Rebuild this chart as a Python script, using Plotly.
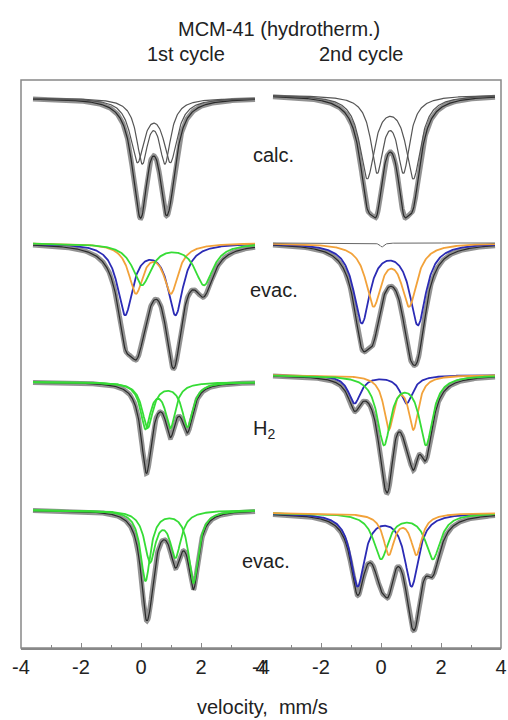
import numpy as np
import plotly.graph_objects as go

# Velocity channels of the spectrometer (mm/s)
velocity = np.linspace(-3.6, 3.8, 420)

# ---- Fitted doublet parameters: line positions (mm/s), line depths and HWHM (mm/s)
# Vertical offsets of the stacked spectra (baseline levels)

# 1st cycle
c1_calc_base = 550
c1_calc_pos = [(-0.12, 0.98), (0.04, 0.80)]
c1_calc_depth = [(61, 61), (61, 61)]
c1_calc_hwhm = [0.28, 0.23]

c1_evac_base = 405
c1_evac_pos = [(-0.53, 1.15), (-0.17, 1.00), (0.03, 2.10)]
c1_evac_depth = [(70, 70), (48, 48), (41, 41)]
c1_evac_hwhm = [0.31, 0.29, 0.37]

c1_h2_base = 266
c1_h2_pos = [(0.15, 0.98), (0.22, 1.55)]
c1_h2_depth = [(45, 44), (45, 44)]
c1_h2_hwhm = [0.20, 0.22]

c1_evac2_base = 138
c1_evac2_pos = [(0.15, 1.75), (0.30, 1.15)]
c1_evac2_depth = [(70, 72), (50, 45)]
c1_evac2_hwhm = [0.20, 0.22]

# 2nd cycle
c2_calc_base = 553
c2_calc_pos = [(-0.46, 1.08), (-0.13, 0.75)]
c2_calc_depth = [(81, 81), (73, 73)]
c2_calc_hwhm = [0.30, 0.25]

c2_evac_base = 405
c2_evac_pos = [(-0.64, 1.23), (-0.25, 0.94)]
c2_evac_depth = [(78, 80), (60, 60)]
c2_evac_hwhm = [0.33, 0.31]

# weak narrow singlet drawn near the 2nd-cycle "evac." baseline
c2_evac_singlet_pos = [0.03]
c2_evac_singlet_depth = [4]
c2_evac_singlet_hwhm = [0.08]

c2_h2_base = 273
c2_h2_pos = [(-0.88, 0.85), (0.26, 1.08), (0.10, 1.50)]
c2_h2_depth = [(28, 28), (52, 52), (68, 68)]
c2_h2_hwhm = [0.25, 0.20, 0.27]

c2_evac2_base = 135
c2_evac2_pos = [(-0.78, 1.02), (0.00, 1.73), (0.26, 1.18)]
c2_evac2_depth = [(72, 72), (45, 45), (40, 40)]
c2_evac2_hwhm = [0.28, 0.30, 0.22]

x_ticks = [-4, -2, 0, 2, 4]
x_ticktext = ["-4", "-2", "0", "2", "4"]

# ---- Styling
GREY = "#555555"
BLUE = "#2b2bb5"
ORANGE = "#f2a23a"
GREEN = "#36dc36"

spectra = [
    ("x", c1_calc_base, c1_calc_pos, c1_calc_depth, c1_calc_hwhm, [GREY, GREY]),
    ("x", c1_evac_base, c1_evac_pos, c1_evac_depth, c1_evac_hwhm, [BLUE, ORANGE, GREEN]),
    ("x", c1_h2_base, c1_h2_pos, c1_h2_depth, c1_h2_hwhm, [GREEN, GREEN]),
    ("x", c1_evac2_base, c1_evac2_pos, c1_evac2_depth, c1_evac2_hwhm, [GREEN, GREEN]),
    ("x2", c2_calc_base, c2_calc_pos, c2_calc_depth, c2_calc_hwhm, [GREY, GREY]),
    ("x2", c2_evac_base, c2_evac_pos, c2_evac_depth, c2_evac_hwhm, [BLUE, ORANGE]),
    ("x2", c2_h2_base, c2_h2_pos, c2_h2_depth, c2_h2_hwhm, [BLUE, ORANGE, GREEN]),
    ("x2", c2_evac2_base, c2_evac2_pos, c2_evac2_depth, c2_evac2_hwhm, [BLUE, GREEN, ORANGE]),
]


def lines(pos, depth, hwhm):
    out = np.zeros_like(velocity)
    for p, d in zip(pos, depth):
        out += d / (1.0 + ((velocity - p) / hwhm) ** 2)
    return out


fig = go.Figure()
for xa, base, pos, depth, hwhm, colors in spectra:
    comps = [lines(p, d, w) for p, d, w in zip(pos, depth, hwhm)]
    total = base - np.sum(comps, axis=0)
    # measured spectrum (grey band) and overall fit
    fig.add_trace(go.Scatter(x=velocity, y=total, xaxis=xa, yaxis="y", mode="lines",
                             line=dict(color="rgba(100,100,100,0.7)", width=5),
                             hoverinfo="skip", showlegend=False))
    fig.add_trace(go.Scatter(x=velocity, y=total, xaxis=xa, yaxis="y", mode="lines",
                             line=dict(color="#2a2a2a", width=1.2),
                             hoverinfo="skip", showlegend=False))
    # subspectra
    for comp, col in zip(comps, colors):
        w = 1.2 if col == GREY else 1.8
        fig.add_trace(go.Scatter(x=velocity, y=base - comp, xaxis=xa, yaxis="y",
                                 mode="lines", line=dict(color=col, width=w),
                                 hoverinfo="skip", showlegend=False))

singlet = lines(c2_evac_singlet_pos, c2_evac_singlet_depth, c2_evac_singlet_hwhm[0])
fig.add_trace(go.Scatter(x=velocity, y=c2_evac_base - singlet, xaxis="x2", yaxis="y",
                         mode="lines", line=dict(color="#666", width=1),
                         hoverinfo="skip", showlegend=False))

axis_common = dict(
    range=[-4, 4], tickmode="array", tickvals=x_ticks, ticktext=x_ticktext,
    ticks="inside", ticklen=5, tickcolor="#888", showline=True, linecolor="#888",
    linewidth=1.5, showgrid=False, zeroline=False, anchor="y",
    tickfont=dict(family="Liberation Sans, Arial, sans-serif", size=20, color="#222"),
    minor=dict(dtick=1, ticks="inside", ticklen=3, tickcolor="#888"),
)

W, H = 508, 720
ML, MR, MT, MB = 21, 1, 80, 72
PW, PH = W - ML - MR, H - MT - MB


def px(x):
    return (x - ML) / PW


def py(y):
    return (H - MB - y) / PH


fig.update_layout(
    width=W, height=H, margin=dict(l=ML, r=MR, t=MT, b=MB),
    paper_bgcolor="white", plot_bgcolor="white",
    xaxis=dict(domain=[0, 0.5], **axis_common),
    xaxis2=dict(domain=[0.5, 1], **axis_common),
    yaxis=dict(range=[0, PH], visible=False, fixedrange=True),
    showlegend=False,
)

fig.add_shape(type="rect", xref="paper", yref="paper", x0=0, x1=1, y0=0, y1=1,
              line=dict(color="#888", width=1.5))

FONT = "Liberation Sans, Arial, sans-serif"
texts = [
    ("MCM-41 (hydrotherm.)", 282, 29),
    ("1st cycle", 188, 54),
    ("2nd cycle", 366, 54),
    ("calc.", 277, 155),
    ("evac.", 277, 290),
    ("H<sub>2</sub>", 267, 429),
    ("evac.", 269, 561),
    ("velocity,  mm/s", 266, 707),
]
for t, x, y in texts:
    fig.add_annotation(text=t, x=px(x), y=py(y), xref="paper", yref="paper",
                       showarrow=False, xanchor="center", yanchor="middle",
                       font=dict(family=FONT, size=20, color="#222"))

fig.write_html("out.html")
